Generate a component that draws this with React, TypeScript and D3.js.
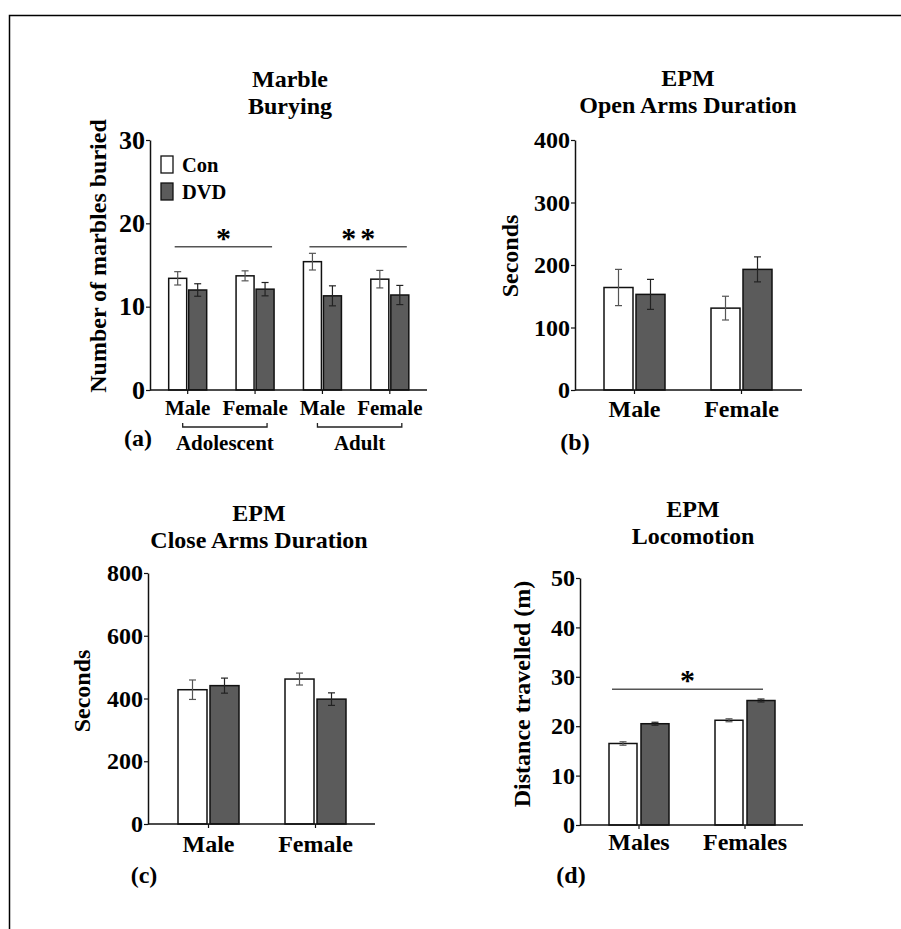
import React, { useEffect, useRef } from "react";
import * as d3 from "d3";

const W = 901;
const H = 929;
const FONT = "Liberation Serif";
const DVD_FILL = "#5b5b5b";

// (a) Marble burying
const marbleGroups = ["Male", "Female", "Male", "Female"];
const marbleCon = [13.4, 13.7, 15.4, 13.3];
const marbleConErr = [0.8, 0.6, 1.0, 1.05];
const marbleDvd = [12.0, 12.1, 11.3, 11.4];
const marbleDvdErr = [0.75, 0.8, 1.2, 1.15];
const marbleTicks = [0, 10, 20, 30];
const marbleSig = [
  { from: 0, to: 1, y: 17.2, label: "*" },
  { from: 2, to: 3, y: 17.2, label: "**" },
];
const marbleAges = [
  { from: 0, to: 1, label: "Adolescent" },
  { from: 2, to: 3, label: "Adult" },
];
const legendItems = [
  { label: "Con", fill: "#fff" },
  { label: "DVD", fill: DVD_FILL },
];

// (b) EPM open arms
const openGroups = ["Male", "Female"];
const openCon = [164, 131];
const openConErr = [29, 19];
const openDvd = [153, 193];
const openDvdErr = [24, 20];
const openTicks = [0, 100, 200, 300, 400];

// (c) EPM close arms
const closeGroups = ["Male", "Female"];
const closeCon = [428, 462];
const closeConErr = [31, 19];
const closeDvd = [441, 398];
const closeDvdErr = [24, 20];
const closeTicks = [0, 200, 400, 600, 800];

// (d) EPM locomotion
const locoGroups = ["Males", "Females"];
const locoCon = [16.5, 21.2];
const locoConErr = [0.35, 0.3];
const locoDvd = [20.5, 25.2];
const locoDvdErr = [0.3, 0.3];
const locoTicks = [0, 10, 20, 30, 40, 50];
const locoSig = [{ from: 0, to: 1, y: 27.5, label: "*" }];

type Sig = { from: number; to: number; y: number; label: string };

type Panel = {
  title: string[];
  titleX: number;
  titleY: number;
  yLabel: string;
  yLabelX: number;
  yLabelY: number;
  groups: string[];
  con: number[];
  conErr: number[];
  dvd: number[];
  dvdErr: number[];
  ticks: number[];
  x0: number;
  x1: number;
  band: [number, number];
  yTop: number;
  yBottom: number;
  barW: number;
  gap: number;
  tickFont: number;
  xFont: number;
  xLabelY: number;
  letter: string;
  letterX: number;
  letterY: number;
  sig?: Sig[];
  sigL?: number;
  sigR?: number;
};

const panels: Panel[] = [
  {
    title: ["Marble", "Burying"], titleX: 290, titleY: 87,
    yLabel: "Number of marbles buried", yLabelX: 106, yLabelY: 256,
    groups: marbleGroups, con: marbleCon, conErr: marbleConErr,
    dvd: marbleDvd, dvdErr: marbleDvdErr, ticks: marbleTicks,
    x0: 150, x1: 427, band: [154, 423.5], yTop: 140, yBottom: 390,
    barW: 18, gap: 2, tickFont: 26, xFont: 21, xLabelY: 415,
    letter: "(a)", letterX: 138, letterY: 446,
    sig: marbleSig, sigL: -13, sigR: 17,
  },
  {
    title: ["EPM", "Open Arms Duration"], titleX: 688, titleY: 86,
    yLabel: "Seconds", yLabelX: 518, yLabelY: 256,
    groups: openGroups, con: openCon, conErr: openConErr,
    dvd: openDvd, dvdErr: openDvdErr, ticks: openTicks,
    x0: 575, x1: 802, band: [581, 795], yTop: 140, yBottom: 390,
    barW: 29, gap: 3, tickFont: 24, xFont: 24, xLabelY: 417,
    letter: "(b)", letterX: 575, letterY: 450,
  },
  {
    title: ["EPM", "Close Arms Duration"], titleX: 259, titleY: 521,
    yLabel: "Seconds", yLabelX: 90, yLabelY: 691,
    groups: closeGroups, con: closeCon, conErr: closeConErr,
    dvd: closeDvd, dvdErr: closeDvdErr, ticks: closeTicks,
    x0: 148, x1: 375, band: [155, 369], yTop: 573, yBottom: 824,
    barW: 29, gap: 3, tickFont: 24, xFont: 24, xLabelY: 852,
    letter: "(c)", letterX: 144, letterY: 883,
  },
  {
    title: ["EPM", "Locomotion"], titleX: 693, titleY: 517,
    yLabel: "Distance travelled (m)", yLabelX: 530, yLabelY: 694,
    groups: locoGroups, con: locoCon, conErr: locoConErr,
    dvd: locoDvd, dvdErr: locoDvdErr, ticks: locoTicks,
    x0: 580, x1: 803, band: [586, 798], yTop: 578, yBottom: 825,
    barW: 28, gap: 4, tickFont: 24, xFont: 24, xLabelY: 850,
    letter: "(d)", letterX: 571, letterY: 883,
    sig: locoSig, sigL: -27, sigR: 18,
  },
];

function serif(sel: any, size: number) {
  return sel
    .attr("font-family", FONT)
    .attr("font-weight", "bold")
    .attr("font-size", size)
    .attr("fill", "#000");
}

function drawPanel(svg: d3.Selection<SVGSVGElement, unknown, null, undefined>, p: Panel) {
  const g = svg.append("g");

  const y = d3.scaleLinear().domain([0, p.ticks[p.ticks.length - 1]]).range([p.yBottom, p.yTop]);
  const x = d3.scaleBand<number>().domain(d3.range(p.groups.length)).range(p.band);
  const cx = (i: number) => (x(i) as number) + x.bandwidth() / 2;

  // title
  p.title.forEach((line, i) => {
    serif(g.append("text"), 24)
      .attr("x", p.titleX)
      .attr("y", p.titleY + i * 27)
      .attr("text-anchor", "middle")
      .text(line);
  });

  // bars
  const rows = p.groups.map((name, i) => ({
    i, name,
    bars: [
      { v: p.con[i], e: p.conErr[i], fill: "#fff", off: -p.gap / 2 - p.barW },
      { v: p.dvd[i], e: p.dvdErr[i], fill: DVD_FILL, off: p.gap / 2 },
    ],
  }));

  const grp = g.selectAll("g.grp").data(rows).enter().append("g").attr("class", "grp");

  const bar = grp.selectAll("g.bar")
    .data(d => d.bars.map(b => ({ ...b, c: cx(d.i) })))
    .enter()
    .append("g")
    .attr("class", "bar");

  bar.append("rect")
    .attr("x", d => d.c + d.off)
    .attr("y", d => y(d.v))
    .attr("width", p.barW)
    .attr("height", d => p.yBottom - y(d.v))
    .attr("fill", d => d.fill)
    .attr("stroke", "#111")
    .attr("stroke-width", 1.5);

  const errColor = (d: { fill: string }) => (d.fill === "#fff" ? "#555" : "#222");
  bar.append("line")
    .attr("x1", d => d.c + d.off + p.barW / 2)
    .attr("x2", d => d.c + d.off + p.barW / 2)
    .attr("y1", d => y(d.v + d.e))
    .attr("y2", d => y(d.v - d.e))
    .attr("stroke", errColor)
    .attr("stroke-width", 1.2);
  [1, -1].forEach(s => {
    bar.append("line")
      .attr("x1", d => d.c + d.off + p.barW / 2 - 3.5)
      .attr("x2", d => d.c + d.off + p.barW / 2 + 3.5)
      .attr("y1", d => y(d.v + s * d.e))
      .attr("y2", d => y(d.v + s * d.e))
      .attr("stroke", errColor)
      .attr("stroke-width", 1.2);
  });

  // y axis
  const yAxis = g.append("g")
    .attr("transform", `translate(${p.x0},0)`)
    .call(d3.axisLeft(y).tickValues(p.ticks).tickSize(4).tickSizeOuter(0).tickPadding(1).tickFormat(d3.format("d")));
  yAxis.attr("font-family", FONT).attr("font-size", p.tickFont);
  yAxis.select(".domain").attr("stroke", "#111").attr("stroke-width", 1.5);
  yAxis.selectAll(".tick line").attr("stroke", "#111").attr("stroke-width", 1.2);
  serif(yAxis.selectAll(".tick text"), p.tickFont);

  // x axis
  g.append("line")
    .attr("x1", p.x0).attr("x2", p.x1)
    .attr("y1", p.yBottom).attr("y2", p.yBottom)
    .attr("stroke", "#111").attr("stroke-width", 1.5);
  grp.append("line")
    .attr("x1", d => cx(d.i)).attr("x2", d => cx(d.i))
    .attr("y1", p.yBottom).attr("y2", p.yBottom + 4)
    .attr("stroke", "#111").attr("stroke-width", 1.2);
  serif(grp.append("text"), p.xFont)
    .attr("x", (d: { i: number }) => cx(d.i))
    .attr("y", p.xLabelY)
    .attr("text-anchor", "middle")
    .text((d: { name: string }) => d.name);

  // y label
  serif(g.append("text"), 24)
    .attr("transform", `translate(${p.yLabelX},${p.yLabelY}) rotate(-90)`)
    .attr("text-anchor", "middle")
    .text(p.yLabel);

  // panel letter
  serif(g.append("text"), 24)
    .attr("x", p.letterX)
    .attr("y", p.letterY)
    .attr("text-anchor", "middle")
    .text(p.letter);

  // significance
  if (p.sig) {
    const sg = g.selectAll("g.sig").data(p.sig).enter().append("g").attr("class", "sig");
    const l = (d: Sig) => cx(d.from) + (p.sigL as number);
    const r = (d: Sig) => cx(d.to) + (p.sigR as number);
    sg.append("line")
      .attr("x1", l)
      .attr("x2", r)
      .attr("y1", d => y(d.y))
      .attr("y2", d => y(d.y))
      .attr("stroke", "#555")
      .attr("stroke-width", 1.5);
    serif(sg.append("text"), 30)
      .attr("x", (d: Sig) => (l(d) + r(d)) / 2 + (d.label.length > 1 ? 2 : 0))
      .attr("y", (d: Sig) => y(d.y) + 1)
      .attr("text-anchor", "middle")
      .attr("letter-spacing", (d: Sig) => (d.label.length > 1 ? 4 : 0))
      .text((d: Sig) => d.label);
  }

  return { g, cx, y };
}

const App = () => {
  const ref = useRef<SVGSVGElement>(null);

  useEffect(() => {
    const svg = d3.select(ref.current as SVGSVGElement);
    svg.selectAll("*").remove();

    svg.append("rect").attr("width", W).attr("height", H).attr("fill", "#fff");

    // frame
    svg.append("path")
      .attr("d", `M9.5,${H} V15.5 H${W}`)
      .attr("fill", "none")
      .attr("stroke", "#000")
      .attr("stroke-width", 1.5);

    const parts = panels.map(p => drawPanel(svg, p));

    // (a) age brackets and legend
    const a = parts[0];
    const ageG = a.g.selectAll("g.age").data(marbleAges).enter().append("g").attr("class", "age");
    ageG.append("path")
      .attr("d", d => {
        const l = a.cx(d.from) - 5;
        const r = a.cx(d.to) + 12;
        return `M${l},423 V427 H${r} V423`;
      })
      .attr("fill", "none")
      .attr("stroke", "#222")
      .attr("stroke-width", 1.3);
    serif(ageG.append("text"), 21)
      .attr("x", (d: { from: number; to: number }) => (a.cx(d.from) - 5 + a.cx(d.to) + 12) / 2)
      .attr("y", 450)
      .attr("text-anchor", "middle")
      .text((d: { label: string }) => d.label);

    const leg = a.g.selectAll("g.leg").data(legendItems).enter().append("g").attr("class", "leg")
      .attr("transform", (_d, i) => `translate(161,${156 + i * 27})`);
    leg.append("rect")
      .attr("width", 12).attr("height", 17)
      .attr("fill", d => d.fill)
      .attr("stroke", "#111").attr("stroke-width", 1.3);
    serif(leg.append("text"), 20.5)
      .attr("x", 21).attr("y", 16)
      .text((d: { label: string }) => d.label);
  }, []);

  return (
    <svg
      ref={ref}
      width={W}
      height={H}
      style={{ position: "absolute", left: 0, top: 0, fontFamily: FONT }}
    />
  );
};

export default App;
